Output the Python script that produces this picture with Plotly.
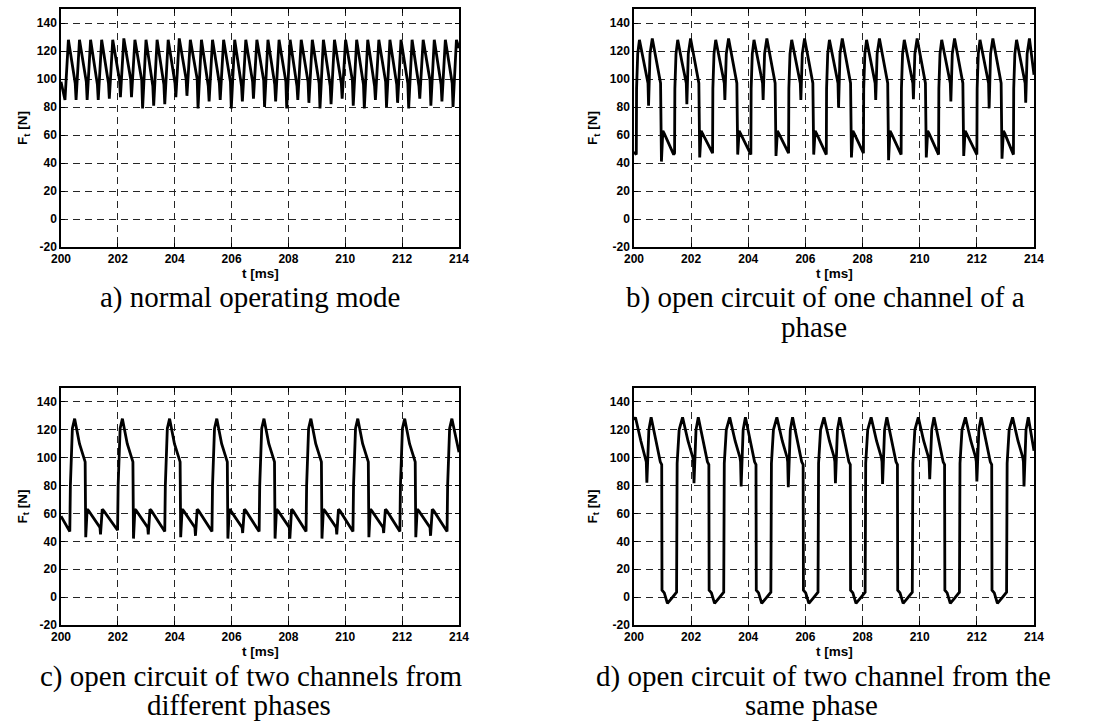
import plotly.graph_objects as go

# ---------------- data ----------------
x_ticks = [200, 202, 204, 206, 208, 210, 212, 214]
y_ticks = [-20, 0, 20, 40, 60, 80, 100, 120, 140]

captions = [
    ["a) normal operating mode"],
    ["b) open circuit of one channel of a", "phase"],
    ["c) open circuit of two channels from", "different phases"],
    ["d) open circuit of two channel from the", "same phase"],
]

# a) normal operating mode
a_t = [200.00,
       200.14, 200.26, 200.50, 200.53, 200.65, 200.89, 200.92, 201.04, 201.28, 201.31, 201.43, 201.67,
       201.70, 201.82, 202.06, 202.09, 202.21, 202.45, 202.48, 202.60, 202.84, 202.87, 202.99, 203.23,
       203.26, 203.38, 203.62, 203.65, 203.77, 204.01, 204.04, 204.16, 204.40, 204.43, 204.55, 204.79,
       204.82, 204.94, 205.18, 205.21, 205.33, 205.57, 205.60, 205.72, 205.96, 205.99, 206.11, 206.35,
       206.38, 206.50, 206.74, 206.77, 206.89, 207.13, 207.16, 207.28, 207.52, 207.55, 207.67, 207.91,
       207.94, 208.06, 208.30, 208.33, 208.45, 208.69, 208.72, 208.84, 209.08, 209.11, 209.23, 209.47,
       209.50, 209.62, 209.86, 209.89, 210.01, 210.25, 210.28, 210.40, 210.64, 210.67, 210.79, 211.03,
       211.06, 211.18, 211.42, 211.45, 211.57, 211.81, 211.84, 211.96, 212.20, 212.23, 212.35, 212.59,
       212.62, 212.74, 212.98, 213.01, 213.13, 213.37, 213.40, 213.52, 213.76, 213.79, 213.91, 214.00]
a_f = [98,
       85, 128, 97, 85, 128, 98, 85, 128, 96, 85, 128, 97,
       86, 128, 99, 87, 129, 100, 87, 128, 99, 79, 128, 95,
       81, 128, 96, 82, 128, 97, 87, 129, 100, 88, 128, 100,
       79, 128, 95, 84, 128, 97, 85, 128, 98, 79, 128, 95,
       84, 128, 98, 86, 128, 99, 80, 128, 96, 84, 128, 98,
       79, 128, 95, 85, 128, 98, 83, 128, 97, 79, 128, 95,
       82, 128, 97, 86, 128, 99, 81, 128, 96, 79, 128, 95,
       85, 128, 98, 80, 128, 96, 83, 128, 97, 79, 128, 95,
       86, 128, 99, 81, 128, 96, 84, 128, 97, 80, 128, 122]

# b) open circuit of one channel of a phase
b_t = [200.00, 200.08,
       200.09, 200.13, 200.19, 200.34, 200.49, 200.51, 200.56, 200.64, 200.82, 200.93, 200.96, 201.01, 201.06, 201.39,
       201.42, 201.43, 201.47, 201.53, 201.68, 201.83, 201.85, 201.90, 201.98, 202.16, 202.27, 202.30, 202.35, 202.40, 202.73,
       202.75, 202.76, 202.80, 202.86, 203.01, 203.16, 203.18, 203.23, 203.31, 203.49, 203.60, 203.63, 203.68, 203.73, 204.06,
       204.09, 204.10, 204.14, 204.20, 204.35, 204.50, 204.52, 204.57, 204.65, 204.83, 204.94, 204.97, 205.02, 205.07, 205.40,
       205.41, 205.42, 205.46, 205.52, 205.67, 205.82, 205.84, 205.89, 205.97, 206.15, 206.26, 206.29, 206.34, 206.39, 206.72,
       206.73, 206.74, 206.78, 206.84, 206.99, 207.14, 207.16, 207.21, 207.29, 207.47, 207.58, 207.61, 207.66, 207.71, 208.02,
       208.03, 208.04, 208.08, 208.14, 208.29, 208.44, 208.46, 208.51, 208.59, 208.77, 208.88, 208.91, 208.96, 209.01, 209.34,
       209.35, 209.36, 209.40, 209.46, 209.61, 209.76, 209.78, 209.83, 209.91, 210.09, 210.20, 210.23, 210.28, 210.33, 210.65,
       210.66, 210.67, 210.71, 210.77, 210.92, 211.07, 211.09, 211.14, 211.22, 211.40, 211.51, 211.54, 211.59, 211.64, 211.99,
       212.00, 212.01, 212.05, 212.11, 212.26, 212.41, 212.43, 212.48, 212.56, 212.74, 212.85, 212.88, 212.93, 212.98, 213.27,
       213.28, 213.29, 213.33, 213.39, 213.54, 213.69, 213.71, 213.76, 213.84, 214.00]
b_f = [48, 46,
       93, 118, 128, 112, 97, 81, 118, 129, 108, 97, 41, 63, 61, 46,
       47, 93, 118, 128, 112, 97, 82, 118, 129, 108, 97, 44, 63, 61, 47,
       47, 93, 118, 128, 112, 97, 85, 118, 129, 108, 97, 46, 63, 61, 47,
       46, 93, 118, 128, 112, 97, 85, 118, 129, 108, 97, 45, 63, 61, 47,
       47, 93, 118, 128, 112, 97, 85, 118, 129, 108, 97, 46, 63, 61, 46,
       46, 93, 118, 128, 112, 97, 79.5, 118, 129, 108, 97, 44, 63, 61, 47,
       47, 93, 118, 128, 112, 97, 85, 118, 129, 108, 97, 42, 63, 61, 47,
       46, 93, 118, 128, 112, 97, 85.5, 118, 129, 108, 97, 44, 63, 61, 47,
       46, 93, 118, 128, 112, 97, 84, 118, 129, 108, 97, 45, 63, 61, 47,
       46, 93, 118, 128, 112, 97, 79, 118, 129, 108, 97, 43, 63, 61, 47,
       46, 93, 118, 128, 112, 97, 83, 118, 129, 103]

# c) open circuit of two channels from different phases
c_t = [200.00,
       200.31, 200.33, 200.40, 200.48, 200.65, 200.85, 200.87, 200.92, 200.97, 201.37, 201.39, 201.45, 201.50,
       201.99, 202.01, 202.08, 202.16, 202.33, 202.53, 202.55, 202.60, 202.65, 203.05, 203.07, 203.13, 203.18,
       203.65, 203.67, 203.74, 203.82, 203.99, 204.19, 204.21, 204.26, 204.31, 204.71, 204.73, 204.79, 204.84,
       205.31, 205.33, 205.40, 205.48, 205.65, 205.85, 205.87, 205.92, 205.97, 206.37, 206.39, 206.45, 206.50,
       206.97, 206.99, 207.06, 207.14, 207.31, 207.51, 207.53, 207.58, 207.63, 208.03, 208.05, 208.11, 208.16,
       208.62, 208.64, 208.71, 208.79, 208.96, 209.16, 209.18, 209.23, 209.28, 209.68, 209.70, 209.76, 209.81,
       210.27, 210.29, 210.36, 210.44, 210.61, 210.81, 210.83, 210.88, 210.93, 211.33, 211.35, 211.41, 211.46,
       211.92, 211.94, 212.01, 212.09, 212.26, 212.46, 212.48, 212.53, 212.58, 212.98, 213.00, 213.06, 213.11,
       213.58, 213.60, 213.67, 213.75, 213.92, 214.00]
c_f = [58,
       47, 80, 121, 128, 110, 97, 43, 63, 62, 50, 45, 63, 62,
       48, 80, 121, 128, 110, 97, 42, 63, 62, 50, 45, 63, 62,
       47, 80, 121, 128, 110, 97, 43, 63, 62, 50, 44, 63, 62,
       47, 80, 121, 128, 110, 97, 42, 63, 62, 50, 46, 63, 62,
       47, 80, 121, 128, 110, 97, 42, 63, 62, 50, 42, 63, 62,
       47, 80, 121, 128, 110, 97, 42, 63, 62, 50, 45, 63, 62,
       47, 80, 121, 128, 110, 97, 43, 63, 62, 50, 46, 63, 62,
       47, 80, 121, 128, 110, 97, 43, 63, 62, 50, 44, 63, 62,
       47, 80, 121, 128, 110, 104]

# d) open circuit of two channels from the same phase
d_t = [200.00,
       200.05, 200.24, 200.41, 200.43, 200.45, 200.52, 200.60, 200.79, 200.92, 200.97, 200.98, 201.06, 201.17, 201.33, 201.49, 201.51, 201.58,
       201.70, 201.89, 202.06, 202.08, 202.10, 202.17, 202.25, 202.44, 202.57, 202.62, 202.63, 202.71, 202.82, 202.98, 203.14, 203.16, 203.23,
       203.35, 203.54, 203.71, 203.73, 203.75, 203.82, 203.90, 204.09, 204.22, 204.27, 204.28, 204.36, 204.47, 204.63, 204.79, 204.81, 204.88,
       205.00, 205.19, 205.36, 205.38, 205.40, 205.47, 205.55, 205.74, 205.87, 205.92, 205.93, 206.01, 206.12, 206.28, 206.44, 206.46, 206.53,
       206.65, 206.84, 207.01, 207.03, 207.05, 207.12, 207.20, 207.39, 207.52, 207.57, 207.58, 207.66, 207.77, 207.93, 208.09, 208.11, 208.18,
       208.30, 208.49, 208.66, 208.68, 208.70, 208.77, 208.85, 209.04, 209.17, 209.22, 209.23, 209.31, 209.42, 209.58, 209.74, 209.76, 209.83,
       209.95, 210.14, 210.31, 210.33, 210.35, 210.42, 210.50, 210.69, 210.82, 210.87, 210.88, 210.96, 211.07, 211.23, 211.39, 211.41, 211.48,
       211.60, 211.79, 211.96, 211.98, 212.00, 212.07, 212.15, 212.34, 212.47, 212.52, 212.53, 212.61, 212.72, 212.88, 213.04, 213.06, 213.13,
       213.25, 213.44, 213.61, 213.63, 213.65, 213.72, 213.80, 214.00]
d_f = [127,
       129, 112, 100, 97, 82.0, 120, 129, 110, 97, 95, 5, 3, -4.5, -0.5, 3.5, 96, 120,
       129, 112, 100, 97, 81.7, 120, 129, 110, 97, 95, 5, 3, -4.5, -0.5, 3.5, 96, 120,
       129, 112, 100, 97, 79.3, 120, 129, 110, 97, 95, 5, 3, -4.5, -0.5, 3.5, 96, 120,
       129, 112, 100, 97, 78.8, 120, 129, 110, 97, 95, 5, 3, -4.5, -0.5, 3.5, 96, 120,
       129, 112, 100, 97, 81.7, 120, 129, 110, 97, 95, 5, 3, -4.5, -0.5, 3.5, 96, 120,
       129, 112, 100, 97, 81.2, 120, 129, 110, 97, 95, 5, 3, -4.5, -0.5, 3.5, 96, 120,
       129, 112, 100, 97, 84.5, 120, 129, 110, 97, 95, 5, 3, -4.5, -0.5, 3.5, 96, 120,
       129, 112, 100, 97, 82.9, 120, 129, 110, 97, 95, 5, 3, -4.5, -0.5, 3.5, 96, 120,
       129, 112, 100, 97, 79.3, 120, 129, 105]

series = [(a_t, a_f), (b_t, b_f), (c_t, c_f), (d_t, d_f)]

# ---------------- layout ----------------
W, H = 1099, 721
# plot boxes in pixels: (left, right, top, bottom)
boxes = [(61, 459, 9, 247), (634, 1034, 9, 247), (61, 459, 388, 625), (634, 1034, 388, 625)]
cap_pos = [[(250, 297)], [(825, 297), (814, 327)], [(251, 676), (239, 705)], [(823, 676), (812, 705)]]
ytitle_x = [23, 593, 23, 593]


def px(x):
    return x / W


def py(y):
    return 1 - y / H


fig = go.Figure()
layout = dict(width=W, height=H, margin=dict(l=0, r=0, t=0, b=0, autoexpand=False),
              paper_bgcolor="white", plot_bgcolor="white", showlegend=False)
annotations = []
tickfont = dict(family="Liberation Sans", size=12, color="black", weight="bold")

for i, ((tt, ff), (l, r, t, b)) in enumerate(zip(series, boxes)):
    n = "" if i == 0 else str(i + 1)
    fig.add_trace(go.Scatter(x=tt, y=ff, mode="lines", xaxis="x" + n, yaxis="y" + n,
                             line=dict(color="black", width=2.8), hoverinfo="skip"))
    common = dict(showline=True, linecolor="black", linewidth=1.5, mirror="ticks",
                  ticks="inside", ticklen=4, tickcolor="black", tickwidth=1,
                  showgrid=True, gridcolor="#262626", gridwidth=1.2, griddash="7px,5px",
                  zeroline=False, tickfont=tickfont, fixedrange=True, automargin=False)
    layout["xaxis" + n] = dict(common, domain=[px(l), px(r)], range=[200, 214],
                               tickmode="array", tickvals=x_ticks,
                               ticktext=[str(v) for v in x_ticks],
                               anchor="y" + n)
    layout["yaxis" + n] = dict(common, domain=[py(b), py(t)], range=[-20, 150],
                               tickmode="array", tickvals=y_ticks,
                               ticktext=[str(v) for v in y_ticks],
                               anchor="x" + n)
    annotations.append(dict(text="<b>t [ms]</b>", x=px((l + r) / 2), y=py(b + 26), xref="paper", yref="paper",
                            showarrow=False, font=dict(family="Liberation Sans", size=13.5, color="black"),
                            xanchor="center", yanchor="middle"))
    annotations.append(dict(text="<b>F<sub>t</sub> [N]</b>", x=px(ytitle_x[i]), y=py((t + b) / 2),
                            xref="paper", yref="paper", textangle=-90, showarrow=False,
                            font=dict(family="Liberation Sans", size=13.5, color="black"),
                            xanchor="center", yanchor="middle"))
    for line, (cx, cy) in zip(captions[i], cap_pos[i]):
        annotations.append(dict(text=line, x=px(cx), y=py(cy), xref="paper", yref="paper",
                                showarrow=False,
                                font=dict(family="Liberation Serif", size=29, color="black"),
                                xanchor="center", yanchor="middle"))

layout["annotations"] = annotations
fig.update_layout(**layout)
fig.write_html("out.html", config={"displayModeBar": False},
               post_script="document.body.style.margin='0';document.body.style.overflow='hidden';")
